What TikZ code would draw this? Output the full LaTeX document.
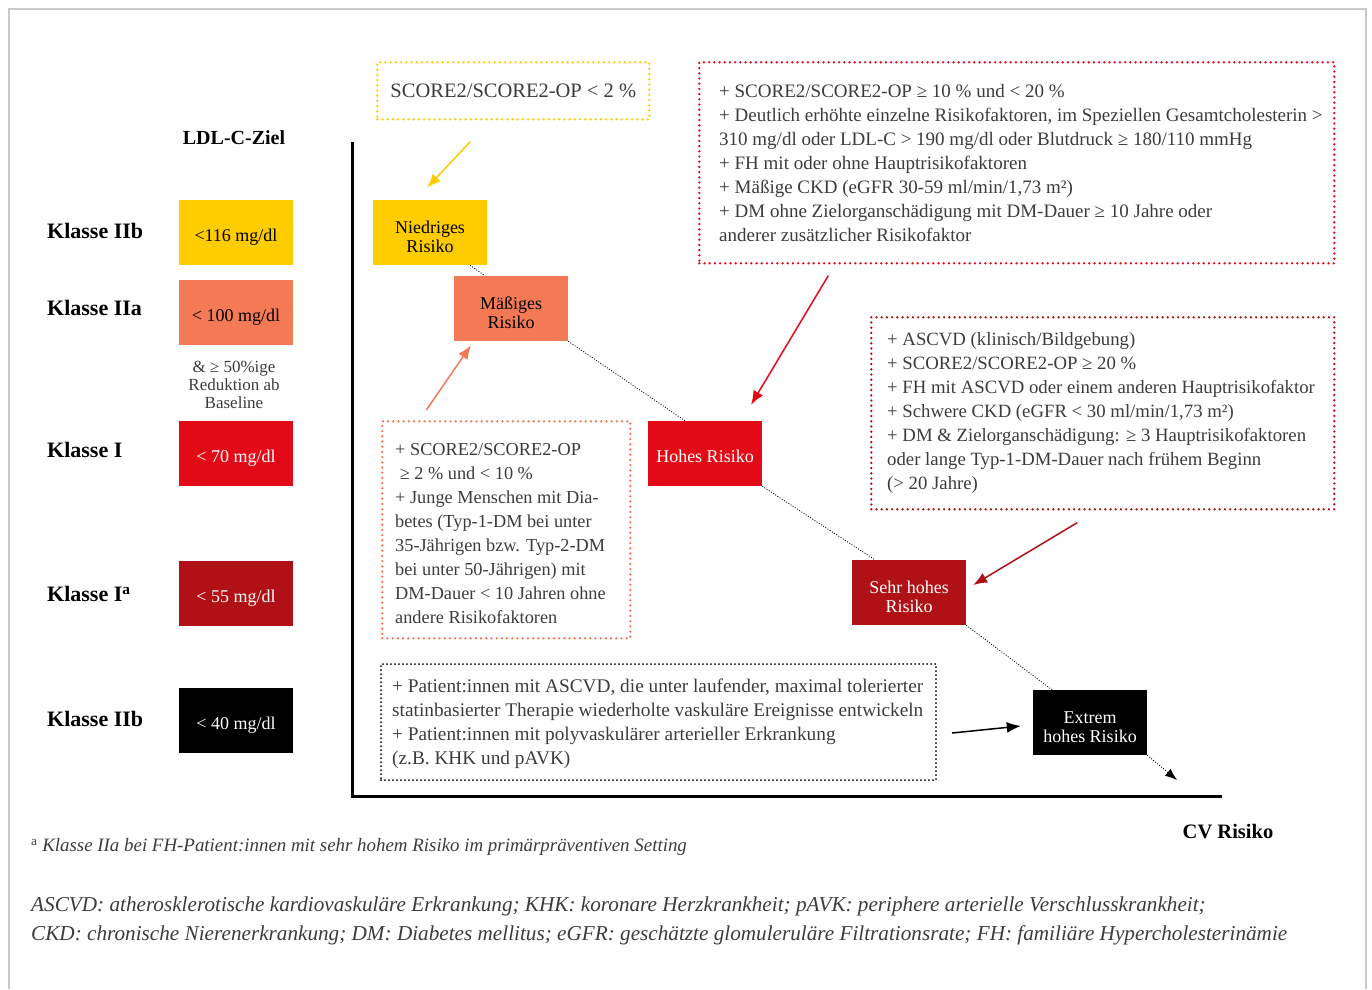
\documentclass[tikz,border=0pt]{standalone}
\usepackage{fontspec}
\setmainfont{Liberation Serif}
\usepackage{tikz}
\usetikzlibrary{positioning}
\usetikzlibrary{calc,arrows.meta}
\definecolor{gelb}{HTML}{FFCC00}
\definecolor{orangeton}{HTML}{F47A55}
\definecolor{rot}{HTML}{E30A18}
\definecolor{dunkelrot}{HTML}{B01117}
\definecolor{grautext}{HTML}{3C3C3C}
\definecolor{rahmengrau}{HTML}{C8CACA}

\begin{document}
\begin{tikzpicture}[x=1pt,y=-1pt,
  box/.style={minimum width=114pt,minimum height=65pt,inner sep=0pt,align=center,text depth=0pt,text height=17pt,font=\fontsize{18}{19}\selectfont},
  zweizeilig/.style={text height=39pt},
  klasse/.style={anchor=west,inner sep=0pt,font=\fontsize{22}{24}\selectfont\bfseries},
  rahmen/.style={draw=#1,line width=2.6pt,dash pattern=on 0pt off 5.2pt,line cap=round,inner sep=0pt,anchor=north west,text=grautext},
  liste/.style={anchor=west,align=left,inner sep=0pt,text=grautext,font=\fontsize{18.3}{24}\selectfont},
  pfeil/.style={draw=#1,line width=1.5pt,-{Latex[length=14pt,width=11pt]}},
  trend/.style={line width=0.8pt,dash pattern=on 1pt off 1.6pt}]
\useasboundingbox (0,0) rectangle (1372,989);
\draw[rahmengrau,line width=1.3pt] (9,989) |- (1366,9) -- (1366,989);

% Achsen
\draw[line width=3pt] (352,142) -- (352,796) -- (1222,796);
\node[font=\fontsize{20}{22}\selectfont\bfseries] (ziel) at (234,138) {LDL-C-Ziel};
\node[font=\fontsize{20.5}{22}\selectfont\bfseries] (cv) at (1228,832) {CV Risiko};

% Klassen und LDL-C-Ziele
\foreach \y/\t in {231/IIb,308/IIa,450/I,594/I\textsuperscript{a},719/IIb}
  \node[klasse] (k\y) at (47,\y) {Klasse \t};
\foreach \y/\f/\s/\v [count=\i] in {232.5/gelb/black/<116,312.5/orangeton/black/< 100,453.5/rot/white/< 70,593.5/dunkelrot/white/< 55,720.5/black/white/< 40}
  \node[box,fill=\f,text=\s] (ldl\i) at (236,\y) {\v{} mg/dl};
\node[align=center,text=grautext,font=\fontsize{17}{18}\selectfont] (red50) at (234,385) {\& ≥ 50\%ige\\Reduktion ab\\Baseline};

% Risikostufen
\node[box,zweizeilig,fill=gelb] (nied) at (430,232.5) {Niedriges\\Risiko};
\node[box,zweizeilig,fill=orangeton] (mass) at (511,308.5) {Mäßiges\\Risiko};
\node[box,fill=rot,text=white] (hoch) at (705,453.5) {Hohes Risiko};
\node[box,zweizeilig,fill=dunkelrot,text=white] (sehr) at (909,592.5) {Sehr hohes\\Risiko};
\node[box,zweizeilig,fill=black,text=white] (extrem) at (1090,722.5) {Extrem\\hohes Risiko};
\coordinate (ende) at (1177,780);
\draw[trend] ([xshift=40pt]nied.south) -- ([xshift=-26pt]mass.north);
\draw[trend] (mass.south east) -- ([xshift=-20pt]hoch.north);
\draw[trend] (hoch.south east) -- ([xshift=-34pt]sehr.north);
\draw[trend] (sehr.south east) -- ([xshift=-38pt]extrem.north);
\draw[trend,-{Latex[length=12pt,width=9pt]}] (extrem.south east) -- (ende);

% Kriterien
\node[rahmen=gelb,minimum width=272pt,minimum height=57pt,font=\fontsize{20.5}{22}\selectfont] (nbox) at (376,61) {SCORE2/SCORE2-OP < 2 \%};
\node[rahmen=rot,minimum width=635pt,minimum height=201pt] (hbox) at (698,61) {};
\node[liste,font=\fontsize{19}{24}\selectfont] (htxt) at ([xshift=21pt]hbox.west) {+ SCORE2/SCORE2-OP ≥ 10 \% und < 20 \%\\
+ Deutlich erhöhte einzelne Risikofaktoren, im Speziellen Gesamtcholesterin >\\
310 mg/dl oder LDL-C > 190 mg/dl oder Blutdruck ≥ 180/110 mmHg\\
+ FH mit oder ohne Hauptrisikofaktoren\\
+ Mäßige CKD (eGFR 30-59 ml/min/1,73 m²)\\
+ DM ohne Zielorganschädigung mit DM-Dauer ≥ 10 Jahre oder\\
anderer zusätzlicher Risikofaktor};
\node[rahmen=orangeton,minimum width=248pt,minimum height=217pt] (mbox) at (381,420) {};
\node[liste] (mtxt) at ([xshift=14pt,yshift=-4pt]mbox.west) {+ SCORE2/SCORE2-OP\\
\ ≥ 2 \% und < 10 \%\\
+ Junge Menschen mit Dia-\\
betes (Typ-1-DM bei unter\\
35-Jährigen bzw. Typ-2-DM\\
bei unter 50-Jährigen) mit\\
DM-Dauer < 10 Jahren ohne\\
andere Risikofaktoren};
\node[rahmen=dunkelrot,minimum width=463pt,minimum height=192pt] (sbox) at (870,316) {};
\node[liste,font=\fontsize{18.75}{24}\selectfont] (stxt) at ([xshift=17pt]sbox.west) {+ ASCVD (klinisch/Bildgebung)\\
+ SCORE2/SCORE2-OP ≥ 20 \%\\
+ FH mit ASCVD oder einem anderen Hauptrisikofaktor\\
+ Schwere CKD (eGFR < 30 ml/min/1,73 m²)\\
+ DM \& Zielorganschädigung: ≥ 3 Hauptrisikofaktoren\\
oder lange Typ-1-DM-Dauer nach frühem Beginn\\
(> 20 Jahre)};
\node[rahmen=black,line width=2pt,dash pattern=on 0pt off 4pt,minimum width=555pt,minimum height=116pt] (ebox) at (380,663) {};
\node[liste,font=\fontsize{19.3}{24}\selectfont] (etxt) at ([xshift=12pt,yshift=-2pt]ebox.west) {+ Patient:innen mit ASCVD, die unter laufender, maximal tolerierter\\
statinbasierter Therapie wiederholte vaskuläre Ereignisse entwickeln\\
+ Patient:innen mit polyvaskulärer arterieller Erkrankung\\
(z.B. KHK und pAVK)};

% Pfeile
\draw[pfeil=gelb] ([xshift=-43pt,yshift=-21pt]nbox.south) -- ([xshift=-3pt,yshift=12pt]nied.north);
\draw[pfeil=orangeton] ([xshift=-80pt,yshift=10pt]mbox.north) -- ([xshift=-40pt,yshift=-4pt]mass.south);
\draw[pfeil=rot] ([xshift=-188.5pt,yshift=-11pt]hbox.south) -- ([xshift=46pt,yshift=16pt]hoch.north);
\draw[pfeil=dunkelrot] ([xshift=-25.5pt,yshift=-12pt]sbox.south) -- ([xshift=7pt,yshift=7.5pt]sehr.east);
\draw[pfeil=black] ([xshift=15pt,yshift=-11pt]ebox.east) -- ([xshift=-12pt,yshift=-3.5pt]extrem.west);

% Fussnoten
\node[anchor=west,inner sep=0pt,text=grautext,font=\fontsize{18.9}{20}\selectfont] (fn) at (31,847) {\textsuperscript{a} \textit{Klasse IIa bei FH-Patient:innen mit sehr hohem Risiko im primärpräventiven Setting}};
\node[anchor=north west,inner sep=0pt,align=left,text=grautext,font=\fontsize{21.2}{29}\selectfont\itshape] (abk) at (31,897) {ASCVD: atherosklerotische kardiovaskuläre Erkrankung; KHK: koronare Herzkrankheit; pAVK: periphere arterielle Verschlusskrankheit;\\
CKD: chronische Nierenerkrankung; DM: Diabetes mellitus; eGFR: geschätzte glomuleruläre Filtrationsrate; FH: familiäre Hypercholesterinämie};
\end{tikzpicture}
\end{document}
